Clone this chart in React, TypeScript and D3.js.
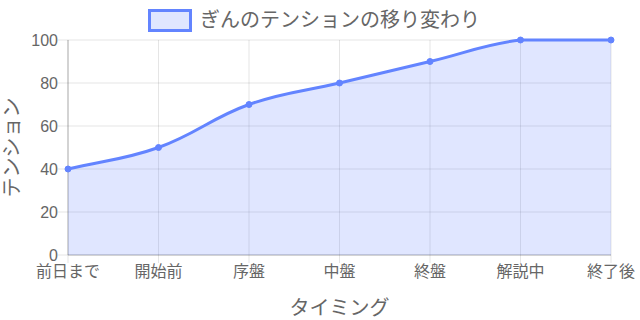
import React from "react";
import * as d3 from "d3";

const categories = ["前日まで", "開始前", "序盤", "中盤", "終盤", "解説中", "終了後"];
const tensionValues = [40, 50, 70, 80, 90, 100, 100];
const yTicks = [0, 20, 40, 60, 80, 100];
const seriesLabel = "ぎんのテンションの移り変わり";
const xTitle = "タイミング";
const yTitle = "テンション";

const W = 640;
const H = 320;
const left = 68;
const right = 611;
const top = 40;
const bottom = 255;
const FONT = '"Liberation Sans", "Noto Sans CJK JP", sans-serif';
const LINE = "rgb(99,132,255)";
const FILL = "rgba(99,132,255,0.2)";
const TEXT = "#666";
const GRID = "rgba(0,0,0,0.1)";

function splinePath(pts: [number, number][], tension: number, close: boolean) {
  const n = pts.length;
  const ctrl = pts.map((p, i) => {
    const prev = pts[i - 1] || p;
    const next = pts[i + 1] || p;
    const d01 = Math.hypot(p[0] - prev[0], p[1] - prev[1]);
    const d12 = Math.hypot(next[0] - p[0], next[1] - p[1]);
    let s01 = d01 / (d01 + d12);
    let s12 = d12 / (d01 + d12);
    s01 = isNaN(s01) ? 0 : s01;
    s12 = isNaN(s12) ? 0 : s12;
    const fa = tension * s01;
    const fb = tension * s12;
    const clampX = (v: number) => Math.max(left, Math.min(right, v));
    const clampY = (v: number) => Math.max(top, Math.min(bottom, v));
    return {
      prev: [clampX(p[0] - fa * (next[0] - prev[0])), clampY(p[1] - fa * (next[1] - prev[1]))],
      next: [clampX(p[0] + fb * (next[0] - prev[0])), clampY(p[1] + fb * (next[1] - prev[1]))],
    };
  });
  const path = d3.path();
  path.moveTo(pts[0][0], pts[0][1]);
  for (let i = 1; i < n; i++) {
    path.bezierCurveTo(
      ctrl[i - 1].next[0], ctrl[i - 1].next[1],
      ctrl[i].prev[0], ctrl[i].prev[1],
      pts[i][0], pts[i][1]
    );
  }
  if (close) {
    path.lineTo(pts[n - 1][0], bottom);
    path.lineTo(pts[0][0], bottom);
    path.closePath();
  }
  return path.toString();
}

export default function App() {
  const x = d3.scalePoint<string>().domain(categories).range([left, right]);
  const y = d3.scaleLinear().domain([0, 100]).range([bottom, top]);
  const pts: [number, number][] = categories.map((c, i) => [x(c) as number, y(tensionValues[i])]);

  return (
    <svg width={W} height={H} style={{ position: "absolute", left: 0, top: 0, background: "#fff" }} fontFamily={FONT}>
      {/* grid */}
      {yTicks.map((t) => (
        <line key={"gy" + t} x1={left - 10} x2={right} y1={y(t)} y2={y(t)} stroke={GRID} strokeWidth={1} />
      ))}
      {categories.map((c) => (
        <line key={"gx" + c} x1={x(c)} x2={x(c)} y1={top} y2={bottom + 8} stroke={GRID} strokeWidth={1} />
      ))}
      <line x1={left} x2={left} y1={top} y2={bottom} stroke="rgba(0,0,0,0.25)" strokeWidth={1} />
      <line x1={left} x2={right} y1={bottom} y2={bottom} stroke="rgba(0,0,0,0.25)" strokeWidth={1} />
      {/* area + line */}
      <path d={splinePath(pts, 0.4, true)} fill={FILL} stroke="none" />
      <path d={splinePath(pts, 0.4, false)} fill="none" stroke={LINE} strokeWidth={3} />
      {pts.map((p, i) => (
        <circle key={"pt" + i} cx={p[0]} cy={p[1]} r={3} fill={LINE} stroke={LINE} strokeWidth={1} />
      ))}
      {/* y tick labels */}
      {yTicks.map((t) => (
        <text key={"ty" + t} x={left - 10} y={y(t)} dy="0.35em" textAnchor="end" fontSize={16} fill={TEXT}>
          {t}
        </text>
      ))}
      {/* x tick labels */}
      {categories.map((c) => (
        <text key={"tx" + c} x={x(c)} y={277} textAnchor="middle" fontSize={16} fill={TEXT}>
          {c}
        </text>
      ))}
      {/* axis titles */}
      <text x={(left + right) / 2} y={315} textAnchor="middle" fontSize={20} fill={TEXT}>
        {xTitle}
      </text>
      <text
        transform={`translate(19, ${(top + bottom) / 2}) rotate(-90)`}
        textAnchor="middle"
        fontSize={20}
        fill={TEXT}
      >
        {yTitle}
      </text>
      {/* legend */}
      <rect x={149.5} y={10.5} width={41} height={20} fill={FILL} stroke={LINE} strokeWidth={3} />
      <text x={200} y={27} fontSize={20} fill={TEXT}>
        {seriesLabel}
      </text>
    </svg>
  );
}
